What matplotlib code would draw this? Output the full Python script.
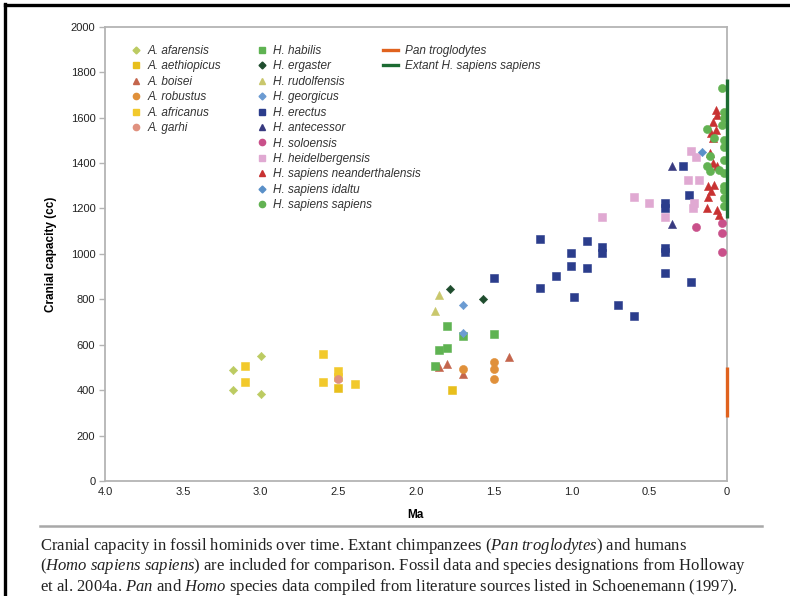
import matplotlib.pyplot as plt
from matplotlib.lines import Line2D

# ==============================================================
# DATA  (Ma, cranial capacity in cc)
# ==============================================================

afarensis_ma = [3.18, 3.18, 3.0, 3.0]
afarensis_cc = [490, 400, 550, 385]

aethiopicus_ma = [2.5, 1.77]
aethiopicus_cc = [410, 400]

boisei_ma = [1.80, 1.85, 1.70, 1.40]
boisei_cc = [517, 504, 471, 545]

robustus_ma = [1.50, 1.50, 1.50, 1.70]
robustus_cc = [526, 493, 448, 492]

africanus_ma = [3.10, 3.10, 2.60, 2.60, 2.50, 2.50, 2.39]
africanus_cc = [507, 435, 560, 436, 485, 460, 425]

garhi_ma = [2.5]
garhi_cc = [450]

habilis_ma = [1.80, 1.50, 1.85, 1.80, 1.88, 1.70]
habilis_cc = [684, 648, 578, 587, 507, 640]

ergaster_ma = [1.78, 1.57]
ergaster_cc = [845, 800]

rudolfensis_ma = [1.85, 1.88]
rudolfensis_cc = [818, 750]

georgicus_ma = [1.70, 1.70]
georgicus_cc = [775, 650]

erectus_ma = [1.50, 1.20, 1.20, 1.10, 1.00, 1.00, 0.98, 0.90, 0.90,
              0.80, 0.80, 0.70, 0.60, 0.40, 0.40, 0.40, 0.23, 0.28,
              0.24, 0.40, 0.40]
erectus_cc = [896, 1065, 852, 903, 1003, 947, 811, 1057, 937,
              1032, 1003, 775, 726, 1025, 1010, 915, 878, 1388,
              1260, 1223, 1201]

antecessor_ma = [0.35, 0.35]
antecessor_cc = [1385, 1130]

soloensis_ma = [0.03, 0.03, 0.03, 0.20]
soloensis_cc = [1135, 1090, 1010, 1118]

heidelbergensis_ma = [0.23, 0.20, 0.25, 0.18, 0.60, 0.50, 0.21, 0.22, 0.40, 0.80]
heidelbergensis_cc = [1451, 1426, 1326, 1326, 1250, 1223, 1226, 1201, 1164, 1164]

neanderthalensis_ma = [0.07, 0.06, 0.09, 0.07, 0.10, 0.09, 0.11, 0.09, 0.06,
                       0.12, 0.08, 0.12, 0.13, 0.06, 0.05, 0.10]
neanderthalensis_cc = [1634, 1612, 1583, 1546, 1532, 1510, 1444, 1400, 1385,
                       1297, 1304, 1252, 1201, 1194, 1172, 1275]

idaltu_ma = [0.16]
idaltu_cc = [1450]

sapiens_ma = [0.03, 0.02, 0.02, 0.03, 0.13, 0.08, 0.02, 0.02, 0.11, 0.02,
              0.13, 0.05, 0.11, 0.02, 0.02, 0.02, 0.02, 0.02]
sapiens_cc = [1730, 1627, 1598, 1568, 1549, 1510, 1500, 1470, 1430, 1414,
              1385, 1370, 1363, 1356, 1300, 1280, 1245, 1210]

pan_range = [280, 500]
extant_range = [1160, 1770]

# name, x, y, marker, colour
species = [
    ('A. afarensis', afarensis_ma, afarensis_cc, 'D', '#bccb62'),
    ('A. aethiopicus', aethiopicus_ma, aethiopicus_cc, 's', '#e8bf1c'),
    ('A. boisei', boisei_ma, boisei_cc, '^', '#c4654c'),
    ('A. robustus', robustus_ma, robustus_cc, 'o', '#e0903a'),
    ('A. africanus', africanus_ma, africanus_cc, 's', '#f2c92c'),
    ('A. garhi', garhi_ma, garhi_cc, 'o', '#e0917f'),
    ('H. habilis', habilis_ma, habilis_cc, 's', '#5fb352'),
    ('H. ergaster', ergaster_ma, ergaster_cc, 'D', '#1f4d2e'),
    ('H. rudolfensis', rudolfensis_ma, rudolfensis_cc, '^', '#c9c76c'),
    ('H. georgicus', georgicus_ma, georgicus_cc, 'D', '#6b9bd2'),
    ('H. erectus', erectus_ma, erectus_cc, 's', '#2b3d8c'),
    ('H. antecessor', antecessor_ma, antecessor_cc, '^', '#383a80'),
    ('H. soloensis', soloensis_ma, soloensis_cc, 'o', '#c9508a'),
    ('H. heidelbergensis', heidelbergensis_ma, heidelbergensis_cc, 's', '#e0a9d2'),
    ('H. sapiens neanderthalensis', neanderthalensis_ma, neanderthalensis_cc, '^', '#c83232'),
    ('H. sapiens idaltu', idaltu_ma, idaltu_cc, 'D', '#5a90c8'),
    ('H. sapiens sapiens', sapiens_ma, sapiens_cc, 'o', '#62b252'),
]

sizes = {'s': 26, 'o': 34, '^': 34, 'D': 18}

# ==============================================================
# FIGURE
# ==============================================================

plt.rcParams['font.family'] = ['Liberation Sans', 'DejaVu Sans']
plt.rcParams['mathtext.fontset'] = 'custom'
plt.rcParams['mathtext.rm'] = 'Liberation Serif'
plt.rcParams['mathtext.it'] = 'Liberation Serif:italic'

fig = plt.figure(figsize=(7.9, 5.96), dpi=100)
ax = fig.add_axes([0.133, 0.193, 0.787, 0.762])

for name, xs, ys, mk, col in species:
    ax.scatter(xs, ys, marker=mk, s=sizes[mk], color=col,
               edgecolors=col, linewidths=0.4, zorder=3, clip_on=False)

ax.vlines(0, pan_range[0], pan_range[1], color='#e0621e', lw=2.4, zorder=4, clip_on=False)
ax.vlines(0, extant_range[0], extant_range[1], color='#1c6b32', lw=2.4, zorder=4, clip_on=False)

ax.set_xlim(4.0, 0)
ax.set_ylim(0, 2000)
ax.set_xticks([4.0, 3.5, 3.0, 2.5, 2.0, 1.5, 1.0, 0.5, 0])
ax.set_xticklabels(['4.0', '3.5', '3.0', '2.5', '2.0', '1.5', '1.0', '0.5', '0'])
ax.set_yticks(range(0, 2001, 200))

for sp in ax.spines.values():
    sp.set_color('#b4b4b4')
    sp.set_linewidth(1.3)
ax.tick_params(axis='y', length=4, width=1, color='#b4b4b4', labelsize=8, labelcolor='#222222', pad=3)
ax.tick_params(axis='x', length=0, labelsize=8, labelcolor='#222222', pad=4)

ax.set_xlabel('Ma', fontsize=8.5, fontweight='bold', labelpad=9)
ax.set_ylabel('Cranial capacity (cc)', fontsize=8.5, fontweight='bold', labelpad=10)

# legends (three columns)
def handle(mk, col):
    return Line2D([], [], marker=mk, color=col, linestyle='none', markersize=4.5 if mk != 'D' else 3.5)

leg_kw = dict(frameon=False, prop={'style': 'italic', 'size': 8.5}, handlelength=0.8,
              handletextpad=0.55, labelspacing=0.29, borderpad=0, borderaxespad=0,
              loc='upper left')

cols = [species[:6], species[6:]]
anchors = [(0.042, 0.960), (0.245, 0.960)]
for group, anc in zip(cols, anchors):
    lg = ax.legend([handle(mk, col) for _, _, _, mk, col in group],
                   [n for n, _, _, _, _ in group], bbox_to_anchor=anc, **leg_kw)
    for t in lg.get_texts():
        t.set_color('#333333')
    ax.add_artist(lg)

line_kw = dict(leg_kw)
line_kw['handlelength'] = 1.3
lg = ax.legend([Line2D([], [], color='#e0621e', lw=2.4), Line2D([], [], color='#1c6b32', lw=2.4)],
               ['Pan troglodytes', 'Extant H. sapiens sapiens'],
               bbox_to_anchor=(0.447, 0.960), **line_kw)
for t in lg.get_texts():
    t.set_color('#333333')

# page decoration: border, rule and caption
fig.add_artist(Line2D([0.0065, 0.0065], [0, 0.994], color='black', lw=2.4, transform=fig.transFigure))
fig.add_artist(Line2D([0.0065, 1.0], [0.992, 0.992], color='black', lw=2.4, transform=fig.transFigure))
fig.add_artist(Line2D([0.051, 0.965], [0.117, 0.117], color='#a8a8a8', lw=1.8, transform=fig.transFigure))

caption = [
    r'Cranial capacity in fossil hominids over time. Extant chimpanzees ($\mathit{Pan\ troglodytes}$) and humans',
    r'($\mathit{Homo\ sapiens\ sapiens}$) are included for comparison. Fossil data and species designations from Holloway',
    r'et al. 2004a. $\mathit{Pan}$ and $\mathit{Homo}$ species data compiled from literature sources listed in Schoenemann (1997).',
]
for i, line in enumerate(caption):
    fig.text(0.051, 0.084 - i * 0.0345, line, fontsize=12.0, family='Liberation Serif',
             color='#222222', va='center', ha='left')

fig.savefig('out.png', dpi=100)
